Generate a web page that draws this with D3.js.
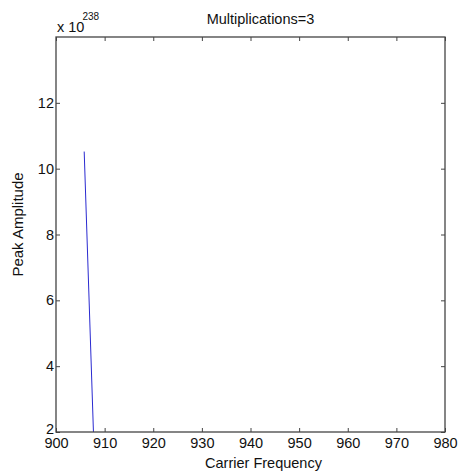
<!DOCTYPE html>
<html>
<head>
<style>
    body { margin: 0; background: #fff; }
    text { font-family: "Liberation Sans", Arial, sans-serif; fill: #111; }
</style>
</head>
<body>

<script src="https://d3js.org/d3.v7.min.js"></script>
<script>

    var title = "Multiplications=3";
    var xLabel = "Carrier Frequency";
    var yLabel = "Peak Amplitude";
    var exponent = "238";

    // frequency vs amplitude (in units of 1e238)
    var freq = [905.8, 907.7];
    var amp = [10.52, 2.0];

    var xTicks = [900, 910, 920, 930, 940, 950, 960, 970, 980];
    var yTicks = [2, 4, 6, 8, 10, 12];

    var width = 459,
        height = 472;
    var margin = {top: 37, right: 14, bottom: 40, left: 56};
    var fs = "14.5px";

    var svg = d3.select("body").append("svg").attr("width", width).attr("height", height);

    var x = d3.scaleLinear().domain([900, 980]).range([margin.left, width - margin.right]);
    var y = d3.scaleLinear().domain([2, 14]).range([height - margin.bottom, margin.top]);

    var data = freq.map(function (f, i) { return {x: f, y: amp[i]}; });

    svg.append("clipPath").attr("id", "clip")
        .append("rect")
        .attr("x", x(900)).attr("y", y(14))
        .attr("width", x(980) - x(900)).attr("height", y(2) - y(14));

    svg.append("path")
        .datum(data)
        .attr("clip-path", "url(#clip)")
        .attr("fill", "none")
        .attr("stroke", "#2a2ad0")
        .attr("stroke-width", 1)
        .attr("d", d3.line().x(function (d) { return x(d.x); }).y(function (d) { return y(d.y); }));

    var axisColor = "#444";

    function styleAxis(g) {
        g.select(".domain").remove();
        g.selectAll(".tick line").attr("stroke", axisColor);
        g.selectAll(".tick text").style("font-size", fs).attr("fill", "#111");
    }

    svg.append("g")
        .attr("transform", "translate(0," + y(2) + ")")
        .call(d3.axisBottom(x).tickValues(xTicks).tickSize(-4).tickPadding(6).tickFormat(d3.format("d")))
        .call(styleAxis);

    svg.append("g")
        .attr("transform", "translate(0," + y(14) + ")")
        .call(d3.axisTop(x).tickValues(xTicks).tickSize(-4).tickFormat(""))
        .call(styleAxis);

    var yAxis = svg.append("g")
        .attr("transform", "translate(" + x(900) + ",0)")
        .call(d3.axisLeft(y).tickValues(yTicks).tickSize(-4).tickPadding(2).tickFormat(d3.format("d")))
        .call(styleAxis);
    // lowest label nudged up, clear of "900"
    yAxis.selectAll(".tick text").filter(function (d) { return d === 2; }).attr("dy", "0.12em");

    svg.append("g")
        .attr("transform", "translate(" + x(980) + ",0)")
        .call(d3.axisRight(y).tickValues(yTicks).tickSize(-4).tickFormat(""))
        .call(styleAxis);

    // box
    svg.append("rect")
        .attr("x", x(900)).attr("y", y(14))
        .attr("width", x(980) - x(900)).attr("height", y(2) - y(14))
        .attr("fill", "none")
        .attr("stroke", axisColor)
        .attr("stroke-width", 1.3);

    svg.append("text")
        .attr("x", (x(900) + x(980)) / 2 + 10)
        .attr("y", 24)
        .attr("text-anchor", "middle")
        .style("font-size", fs)
        .text(title);

    var ex = svg.append("text")
        .attr("x", x(900) + 1)
        .attr("y", 32)
        .style("font-size", fs);
    ex.append("tspan").text("x 10");
    ex.append("tspan").attr("dx", -2).attr("dy", -12).style("font-size", "10px").text(exponent);

    svg.append("text")
        .attr("x", (x(900) + x(980)) / 2 + 13)
        .attr("y", 468)
        .attr("text-anchor", "middle")
        .style("font-size", fs)
        .text(xLabel);

    svg.append("text")
        .attr("transform", "translate(23," + ((y(2) + y(14)) / 2 - 10) + ") rotate(-90)")
        .attr("text-anchor", "middle")
        .style("font-size", "15px")
        .text(yLabel);

</script>
</body>
</html>
